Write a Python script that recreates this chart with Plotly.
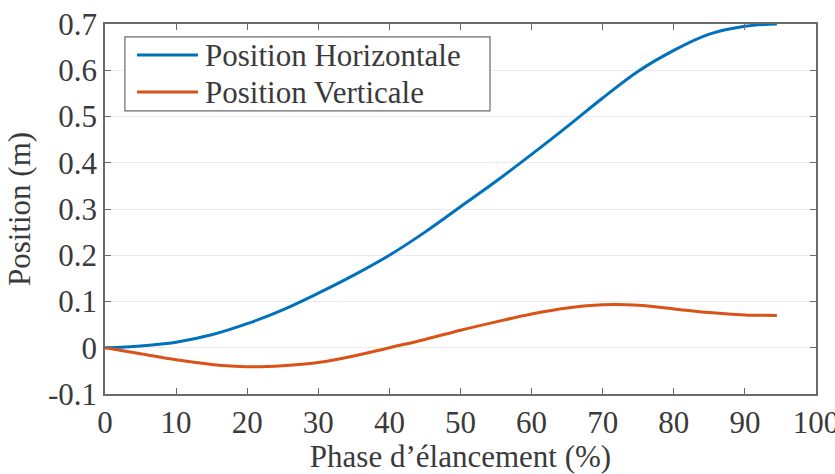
import plotly.graph_objects as go

phase = [0, 5, 10, 15, 20, 25, 30, 35, 40, 45, 50, 55, 60, 65, 70, 75, 80, 85, 90, 94.5]
pos_h = [0, 0.004, 0.012, 0.028, 0.052, 0.082, 0.118, 0.157, 0.200, 0.250, 0.305,
         0.360, 0.418, 0.478, 0.540, 0.598, 0.643, 0.678, 0.695, 0.700]
pos_v = [0, -0.013, -0.026, -0.036, -0.041, -0.039, -0.032, -0.018, 0.000, 0.018,
         0.038, 0.056, 0.073, 0.086, 0.093, 0.092, 0.084, 0.076, 0.071, 0.070]

series_names = ["Position Horizontale", "Position Verticale"]
series_colors = ["#0072BD", "#D95319"]

x_ticks = [0, 10, 20, 30, 40, 50, 60, 70, 80, 90, 100]
y_ticks = [-0.1, 0, 0.1, 0.2, 0.3, 0.4, 0.5, 0.6, 0.7]
y_labels = ["-0.1", "0", "0.1", "0.2", "0.3", "0.4", "0.5", "0.6", "0.7"]

FONT = "Liberation Serif"
FS = 31
TXT = "#3a3a3a"
AX = "#6a6a6a"

fig = go.Figure()
for name, ys, col in zip(series_names, [pos_h, pos_v], series_colors):
    fig.add_trace(go.Scatter(x=phase, y=ys, mode="lines", name=name, showlegend=False,
                             line=dict(color=col, width=3, shape="spline")))

# Manual legend (box, sample lines, labels) in axes-domain coordinates
leg_rows_y = [0.916, 0.816]
fig.add_shape(type="rect", xref="x domain", yref="y domain",
              x0=0.028, x1=0.5415, y0=0.765, y1=0.965,
              line=dict(color=AX, width=1.2), fillcolor="white", layer="above")
annots = []
for name, col, yy in zip(series_names, series_colors, leg_rows_y):
    fig.add_shape(type="line", xref="x domain", yref="y domain",
                  x0=0.045, x1=0.1308, y0=yy, y1=yy,
                  line=dict(color=col, width=3), layer="above")
    annots.append(dict(xref="x domain", yref="y domain", x=0.1378, y=yy,
                       xanchor="left", yanchor="middle", text=name, showarrow=False,
                       font=dict(family=FONT, size=FS, color=TXT)))

fig.update_layout(
    width=835, height=474,
    margin=dict(l=105, r=19, t=24, b=80, autoexpand=False),
    paper_bgcolor="white", plot_bgcolor="white",
    font=dict(family=FONT, size=FS, color=TXT),
    showlegend=False,
    annotations=annots,
    xaxis=dict(range=[0, 100], tickvals=x_ticks, ticktext=[str(v) for v in x_ticks],
               automargin=False,
               showgrid=False, zeroline=False, showline=True, linecolor=AX, linewidth=1.5,
               mirror="ticks", ticks="inside", ticklen=6, tickcolor=AX, tickwidth=1,
               ticklabeloverflow="allow",
               tickfont=dict(family=FONT, size=FS, color=TXT),
               title=dict(text="Phase d’élancement (%)", standoff=4,
                          font=dict(family=FONT, size=FS, color=TXT))),
    yaxis=dict(range=[-0.1, 0.7], tickvals=y_ticks, ticktext=y_labels,
               automargin=False,
               showgrid=True, gridcolor="#ebebeb", gridwidth=1, zeroline=False,
               showline=True, linecolor=AX, linewidth=1.5,
               mirror="ticks", ticks="inside", ticklen=6, tickcolor=AX, tickwidth=1,
               ticklabeloverflow="allow",
               tickfont=dict(family=FONT, size=FS, color=TXT),
               title=dict(text="Position (m)", standoff=8,
                          font=dict(family=FONT, size=FS, color=TXT))),
)

fig.write_html("out.html")
